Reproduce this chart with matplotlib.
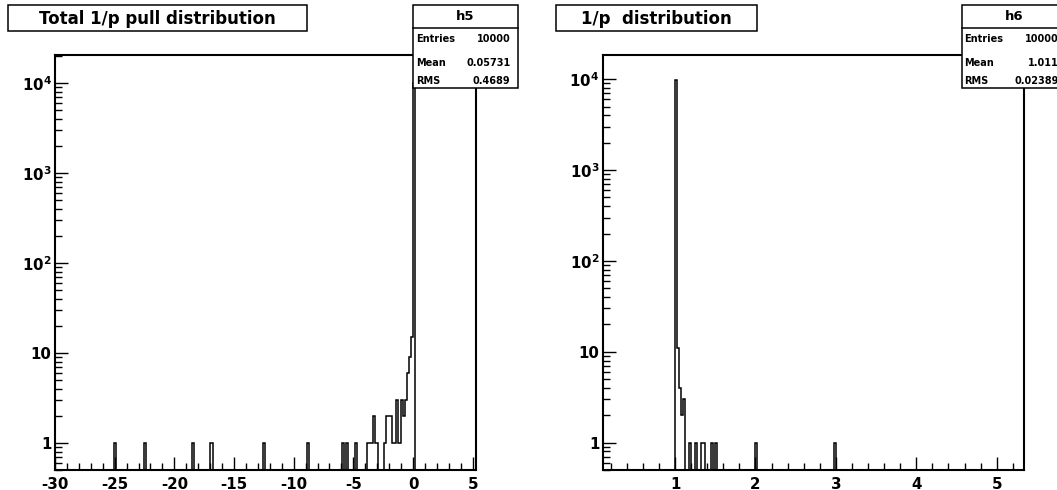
import numpy as np
import matplotlib
matplotlib.use("Agg")
import matplotlib.pyplot as plt
from matplotlib.patches import Rectangle
from matplotlib.ticker import FixedLocator, FixedFormatter, MultipleLocator, LogLocator, NullFormatter

# ---------------- data ----------------
left_title = "Total 1/p pull distribution"
right_title = "1/p  distribution"

left_stats_name = "h5"
left_stats_keys = ["Entries", "Mean", "RMS"]
left_stats_vals = ["10000", "0.05731", "0.4689"]

right_stats_name = "h6"
right_stats_keys = ["Entries", "Mean", "RMS"]
right_stats_vals = ["10000", "1.011", "0.02389"]

# left histogram: bin low edges and counts (bin width 0.175)
left_bin_width = 0.175
left_lo = [-25.025, -22.575, -18.55, -16.975, -12.6, -8.925, -5.95, -5.6, -4.9,
           -3.85, -3.675, -3.5, -3.325, -3.15, -2.45, -2.275, -2.1, -1.925,
           -1.75, -1.575, -1.4, -1.225, -1.05, -0.875, -0.7, -0.525, -0.35,
           -0.175, 0.0]
left_n = [1, 1, 1, 1, 1, 1, 1, 1, 1,
          1, 1, 1, 2, 1, 1, 2, 2, 2,
          1, 1, 3, 1, 3, 2, 3, 6, 9,
          15, 9900]

# right histogram: bin low edges and counts (bin width 0.025)
right_bin_width = 0.025
right_lo = [1.0, 1.025, 1.05, 1.075, 1.1, 1.175, 1.25, 1.325, 1.35, 1.45, 1.5, 2.0, 2.975]
right_n = [9830, 11, 4, 2, 3, 1, 1, 1, 1, 1, 1, 1, 1]

y_ticks = [1, 10, 100, 1000, 10000]
y_tick_labels = ["1", "10", "$10^{2}$", "$10^{3}$", "$10^{4}$"]
left_x_ticks = [-30, -25, -20, -15, -10, -5, 0, 5]
right_x_ticks = [1, 2, 3, 4, 5]

# ---------------- style ----------------
plt.rcParams["font.family"] = ["DejaVu Sans"]
plt.rcParams["font.weight"] = "bold"
plt.rcParams["axes.unicode_minus"] = False
plt.rcParams["mathtext.fontset"] = "custom"
plt.rcParams["mathtext.rm"] = "DejaVu Sans:bold"
plt.rcParams["mathtext.bf"] = "DejaVu Sans:bold"
plt.rcParams["mathtext.it"] = "DejaVu Sans:bold"
plt.rcParams["mathtext.default"] = "rm"

W, H = 1057, 490
fig = plt.figure(figsize=(W / 100, H / 100), dpi=100)
fig.patch.set_facecolor("white")


def fx(x):
    return x / W


def fy(y):
    return 1 - y / H


def add_axes_px(x0, y0, x1, y1):
    return fig.add_axes([fx(x0), fy(y1), (x1 - x0) / W, (y1 - y0) / H])


def box_px(x0, y0, x1, y1, lw=1.1):
    r = Rectangle((fx(x0), fy(y1)), (x1 - x0) / W, (y1 - y0) / H,
                  transform=fig.transFigure, facecolor="white",
                  edgecolor="black", lw=lw, zorder=10, clip_on=False)
    fig.add_artist(r)


def line_px(x0, y0, x1, y1, lw=1.1):
    fig.add_artist(plt.Line2D([fx(x0), fx(x1)], [fy(y0), fy(y1)],
                              transform=fig.transFigure, color="black", lw=lw, zorder=11))


def text_px(x, y, s, size, ha="center"):
    fig.text(fx(x), fy(y), s, fontsize=size, fontweight="bold", ha=ha, va="center", zorder=12)


def build_hist(lo_list, counts, width, k0, k1, origin):
    edges = origin + np.arange(k0, k1 + 1) * width
    vals = np.zeros(k1 - k0)
    idx = np.rint((np.array(lo_list) - origin) / width).astype(int) - k0
    vals[idx] = counts
    return edges, vals


def style_axes(ax, xmin_step, xticks):
    ax.set_yscale("log")
    for s in ax.spines.values():
        s.set_linewidth(1.5)
        s.set_color("black")
    ax.yaxis.set_major_locator(FixedLocator(y_ticks))
    ax.yaxis.set_major_formatter(FixedFormatter(y_tick_labels))
    ax.yaxis.set_minor_locator(LogLocator(base=10, subs=np.arange(2, 10)))
    ax.yaxis.set_minor_formatter(NullFormatter())
    ax.xaxis.set_major_locator(FixedLocator(xticks))
    ax.xaxis.set_minor_locator(MultipleLocator(xmin_step))
    ax.tick_params(which="both", direction="in", top=False, right=False,
                   width=1.0, color="black")
    ax.tick_params(which="major", length=9.4, labelsize=10.8)
    ax.tick_params(which="minor", length=4.7)
    ax.tick_params(axis="x", which="major", pad=5.0)
    ax.tick_params(axis="y", which="major", pad=2.5)
    for lab in ax.get_xticklabels() + ax.get_yticklabels():
        lab.set_fontweight("bold")


# ---------------- left panel ----------------
axL = add_axes_px(55, 55, 475.7, 470)
eL, vL = build_hist(left_lo, left_n, left_bin_width, -172, 30, 0.0)
floor = 1e-3
axL.stairs(np.where(vL > 0, vL, floor), eL, baseline=floor, color="black", lw=1.1)
axL.set_xlim(-30, 5.25)
axL.set_ylim(0.5, 2.04e4)
style_axes(axL, 1, left_x_ticks)

# ---------------- right panel ----------------
axR = add_axes_px(602.7, 55, 1024, 470)
eR, vR = build_hist(right_lo, right_n, right_bin_width, 0, 210, 0.1)
axR.stairs(np.where(vR > 0, vR, floor), eR, baseline=floor, color="black", lw=1.1)
axR.set_xlim(0.1, 5.34)
axR.set_ylim(0.5, 1.85e4)
style_axes(axR, 0.2, right_x_ticks)

# ---------------- title boxes ----------------
box_px(8, 5, 307, 31)
text_px((8 + 307) / 2, 18.5, left_title, 12)
box_px(556, 5, 757, 31)
text_px((556 + 757) / 2, 18.5, right_title, 12)


# ---------------- stats boxes ----------------
def stats_box(x0, x1, name, keys, vals):
    y0, yh, y1 = 5, 28, 88
    box_px(x0, y0, x1, y1)
    line_px(x0, yh, x1, yh)
    text_px((x0 + x1) / 2, (y0 + yh) / 2 + 0.5, name, 9.5)
    rows_y = [38.5, 62.5, 80.5]
    for k, v, yy in zip(keys, vals, rows_y):
        text_px(x0 + 3, yy, k, 7, ha="left")
        text_px(x1 - 7.5, yy, v, 7, ha="right")


stats_box(413, 518, left_stats_name, left_stats_keys, left_stats_vals)
stats_box(961.5, 1066.5, right_stats_name, right_stats_keys, right_stats_vals)

fig.savefig("out.png", dpi=100)
